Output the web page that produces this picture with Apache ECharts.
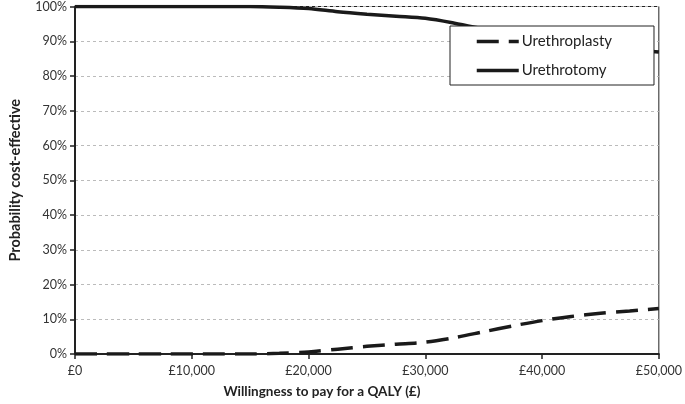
<!DOCTYPE html>
<html>
<head>
<meta charset="utf-8">
<script src="https://cdn.jsdelivr.net/npm/echarts@6/dist/echarts.min.js"></script>
<style>html,body{margin:0;padding:0;background:#fff;}#c{width:685px;height:404px;}</style>
</head>
<body>
<div id="c"></div>
<script>
var wtp = [0,2500,5000,7500,10000,12500,15000,17500,20000,22500,25000,27500,30000,32500,35000,37500,40000,42500,45000,47500,50000];
var urethroplasty = [0,0,0,0,0,0,0,0.2,0.6,1.4,2.2,2.8,3.4,4.7,6.4,8.1,9.6,10.8,11.7,12.4,13.1];
var urethrotomy = [100,100,100,100,100,100,100,99.8,99.4,98.5,97.8,97.2,96.6,95.2,93.5,91.8,90.4,89.2,88.3,87.6,86.9];
var seriesNames = ['Urethroplasty','Urethrotomy'];

function pairs(xs, ys){ return xs.map(function(x,i){return [x, ys[i]];}); }
var FONT = 'Lato';
var chart = echarts.init(document.getElementById('c'));
chart.setOption({
  animation: false,
  textStyle: {fontFamily: FONT},
  grid: {left: 64, right: 25, top: 6, bottom: 50, show: true, borderColor: '#222', borderWidth: 1},
  legend: {
    orient: 'vertical', left: 450, top: 26,
    data: seriesNames,
    itemWidth: 42, itemHeight: 14, itemGap: 14,
    padding: [8, 42, 7, 25],
    borderColor: '#222', borderWidth: 1, backgroundColor: '#fff',
    itemStyle: {opacity: 0},
    lineStyle: {width: 3.5},
    textStyle: {fontFamily: FONT, fontSize: 15, color: '#222', padding: [0,0,0,-2]}
  },
  xAxis: {
    type: 'value', min: 0, max: 50000, interval: 10000,
    name: 'Willingness to pay for a QALY (£)', nameLocation: 'middle', nameGap: 31,
    nameTextStyle: {fontFamily: FONT, fontWeight: 'bold', fontSize: 13.5, color: '#222', padding: [0, 90, 0, 0]},
    axisLine: {show: true, lineStyle: {color: '#222', width: 2}},
    axisTick: {show: true, length: 5, lineStyle: {color: '#222', width: 1.5}},
    splitLine: {show: false},
    axisLabel: {fontSize: 12.5, color: '#333', margin: 10,
      formatter: function(v){ return '£' + v.toLocaleString('en-GB'); }}
  },
  yAxis: {
    type: 'value', min: 0, max: 100, interval: 10,
    name: 'Probability cost-effective', nameLocation: 'middle', nameGap: 52,
    nameTextStyle: {fontFamily: FONT, fontWeight: 'bold', fontSize: 14.5, color: '#222'},
    axisLine: {show: true, lineStyle: {color: '#222', width: 2}},
    axisTick: {show: true, length: 5, lineStyle: {color: '#222', width: 1.5}},
    splitLine: {show: true, lineStyle: {color: '#bbb', type: [3,3], width: 1}},
    axisLabel: {fontSize: 12.5, color: '#333', margin: 8, formatter: '{value}%'}
  },
  series: [
    {name: seriesNames[0], type: 'line', data: pairs(wtp, urethroplasty), smooth: 0.3, symbol: 'none',
      lineStyle: {color: '#1a1a1a', width: 3.5, type: [22, 10]}, itemStyle: {color: '#1a1a1a'}},
    {name: seriesNames[1], type: 'line', data: pairs(wtp, urethrotomy), smooth: 0.3, symbol: 'none',
      lineStyle: {color: '#1a1a1a', width: 3.5, type: 'solid'}, itemStyle: {color: '#1a1a1a'}}
  ]
});
</script>
</body>
</html>
